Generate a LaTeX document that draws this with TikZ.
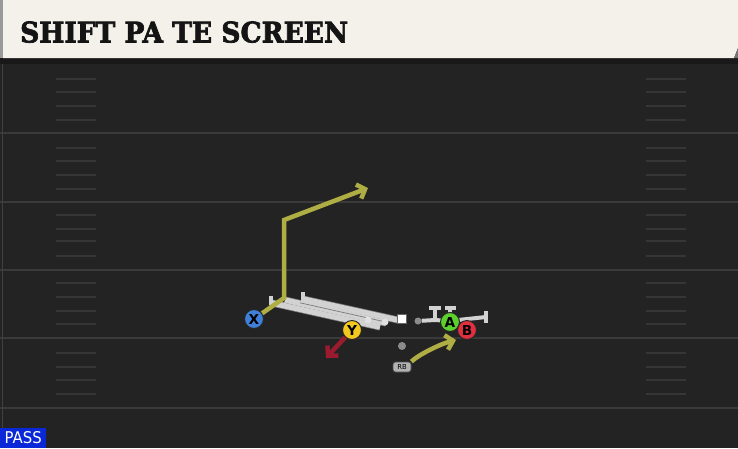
\documentclass[tikz,border=0pt]{standalone}
\usepackage{fontspec}
\newfontfamily\titlefont{DejaVu Serif}[BoldFeatures={FakeBold=2.5}]
\newfontfamily\labfont{DejaVu Sans}
\usetikzlibrary{arrows.meta}
\definecolor{fieldc}{HTML}{232323}
\definecolor{yardc}{HTML}{3A3A3A}
\definecolor{hashc}{HTML}{363636}
\definecolor{headc}{HTML}{F4F1EA}
\definecolor{routec}{HTML}{AEAE45}
\definecolor{redroute}{HTML}{9A1A2E}
\definecolor{blockc}{HTML}{D2D2D2}
\definecolor{blockd}{HTML}{7A7A7A}
\definecolor{xblue}{HTML}{3F7FD8}
\definecolor{yyel}{HTML}{F2C81E}
\definecolor{agreen}{HTML}{5CD12C}
\definecolor{bred}{HTML}{E0303F}
\definecolor{passblue}{HTML}{0A28D8}
\tikzset{
  yardline/.style={draw=yardc, line width=2pt},
  hashline/.style={draw=hashc, line width=2pt},
  route/.style={draw=routec, line width=4.5pt, -{Straight Barb[length=7pt,width=15pt]}},
  redr/.style={draw=redroute, line width=4.5pt, -{Straight Barb[length=7pt,width=15pt]}},
  blockedge/.style={draw=blockd, line width=7pt},
  block/.style={draw=blockc, line width=5.5pt},
  blockthin/.style={draw=blockc, line width=4pt},
  player/.style={circle, draw=black!85, line width=1pt, minimum size=19pt, inner sep=0pt, font=\labfont\bfseries},
}
\newcommand{\plab}[1]{\resizebox{!}{10pt}{#1}}
\begin{document}
\begin{tikzpicture}[x=1pt,y=-1pt]
\useasboundingbox (0,0) rectangle (738,448);
\fill[fieldc] (0,0) rectangle (738,448);
% field
\foreach \y in {133,202,270,338,408} \draw[yardline] (0,\y) -- (738,\y);
\foreach \y in {79,92,106,120,148,161,175,189,215,229,241,256,283,297,311,324,353,367,380,394}{
  \draw[hashline] (56,\y) -- (96,\y);
  \draw[hashline] (646,\y) -- (686,\y);
}
\draw[draw=black!75!white, line width=0.8pt] (2,63) -- (2,448);
% header
\fill[black!90] (0,56) rectangle (738,64);
\fill[headc] (3,0) -- (738,0) -- (738,48) -- (734,58) -- (3,58) -- cycle;
\fill[black!40] (0,0) rectangle (3,58);
\fill[black!55] (734,58) -- (738,48) -- (738,58) -- cycle;
\node[anchor=south west, inner sep=0pt, text=black!92] (title) at (20,43)
  {\resizebox{328pt}{21pt}{\titlefont\bfseries SHIFT PA TE SCREEN}};
% PASS tag
\node[anchor=south west, fill=passblue, minimum width=46pt, minimum height=20pt, inner sep=0pt, text=white] (pass) at (0,448)
  {\resizebox{37pt}{12pt}{\labfont PASS}};
% left side blocking bars
\draw[blockedge] (272,303) -- (380,327);
\draw[blockedge] (285,300) -- (386,323);
\draw[blockedge] (303,299) -- (398,320);
\draw[block] (272,303) -- (380,327);
\draw[block] (285,300) -- (386,323);
\draw[block] (303,299) -- (398,320);
\draw[draw=blockd, line width=0.7pt] (300,302.8) -- (384,321.6);
\draw[blockthin] (271,296) -- (271,305);
\draw[blockthin] (303,292) -- (303,301);
\fill[white!88!black] (368,320) circle (3.5);
\fill[white!88!black] (385,322) circle (3.5);
\node[fill=white, draw=black!60, minimum size=9pt, inner sep=0pt] (sq) at (402,319) {};
% right side blocking
\node[circle, fill=black!45, minimum size=7pt, inner sep=0pt] (od) at (418,321) {};
\draw[blockthin] (od) -- (435,320) -- (450,321);
\draw[blockthin] (435,320) -- (435,308);
\draw[blockthin] (429,308) -- (441,308);
\draw[blockthin] (445,308) -- (456,308);
\draw[blockthin] (450,308) -- (450,314);
\draw[blockthin] (458,320) -- (486,317);
\draw[blockthin] (486,311) -- (486,323);
% players
\node[player, fill=xblue] (X) at (254,319) {\plab{X}};
\coordinate (xb1) at (284,298);
\coordinate (xb2) at (284,220);
\coordinate (xend) at (368,188);
\draw[route] (X) -- (xb1) -- (xb2) -- (xend);
\node[player, fill=yyel] (Y) at (352,330) {\plab{Y}};
\coordinate (yend) at (326,358);
\draw[redr] (Y) -- (yend);
\node[circle, fill=black!45, minimum size=8pt, inner sep=0pt] (dot) at (402,346) {};
\node[rounded corners=2.5pt, fill=black!30, draw=black!70, line width=0.8pt, minimum width=18pt, minimum height=10pt, inner sep=0pt, font=\labfont] (RB) at (402,367) {\resizebox{!}{5pt}{RB}};
\coordinate (rbend) at (456,340);
\draw[route] (RB.north east) .. controls (418,355) and (440,344) .. (rbend);
\node[player, fill=agreen] (A) at (450,322) {\plab{A}};
\node[player, fill=bred] (B) at (467,330) {\plab{B}};
\end{tikzpicture}
\end{document}
